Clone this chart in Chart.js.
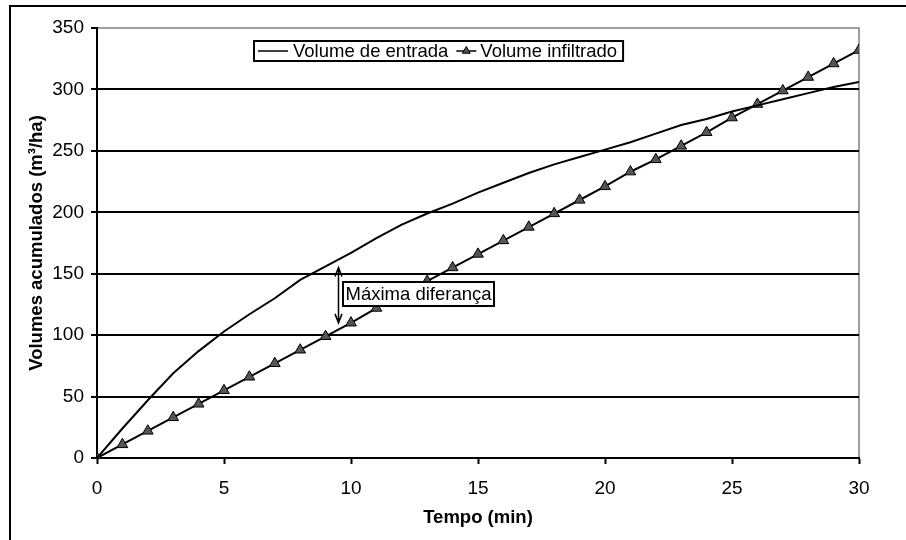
<!DOCTYPE html>
<html>
<head>
<meta charset="utf-8">
<script src="https://cdn.jsdelivr.net/npm/chart.js@4/dist/chart.umd.min.js"></script>
<style>
  html, body { margin: 0; padding: 0; background: #fff; }
  #wrap { width: 906px; height: 540px; }
</style>
</head>
<body>
<div id="wrap"><canvas id="chart" width="906" height="540"></canvas></div>
<script>
// tempo (min) e volumes acumulados (m3/ha)
const tempo = [0,1,2,3,4,5,6,7,8,9,10,11,12,13,14,15,16,17,18,19,20,21,22,23,24,25,26,27,28,29,30];
const volEntrada = [0,24,47,69,87,103,117,130,145,156,167,179,190,199,207,216,224,232,239,245,251,257,264,271,276,282,287,292,297,302,306];
const volInfiltrado = [0,11,22,33,44,55,66,77,88,99,110,122,133,144,155,166,177,188,199,210,221,233,243,254,265,277,288,299,310,321,332];

const xTicks = [0,5,10,15,20,25,30];
const yTicks = [0,50,100,150,200,250,300,350];

const serieNomes = ["Volume de entrada", "Volume infiltrado"];

// seta "Máxima diferança": tempo e limites em volume
const difTempo = 9.5;
const difTopo = 155;
const difBase = 110;
const difTexto = "Máxima diferança";
const difTextoY = 133.5;

const FONT = "Liberation Sans, Arial, sans-serif";
const CINZA = "#808080";
const MARCADOR = "#555555";

function pts(xs, ys){
  return xs.map((x, i) => ({x, y: ys[i]}));
}

function triangulo(ctx, x, y, r){
  ctx.beginPath();
  ctx.moveTo(x, y - r);
  ctx.lineTo(x + r * Math.sin(2 * Math.PI / 3), y - r * Math.cos(2 * Math.PI / 3));
  ctx.lineTo(x - r * Math.sin(2 * Math.PI / 3), y - r * Math.cos(2 * Math.PI / 3));
  ctx.closePath();
  ctx.fillStyle = MARCADOR;
  ctx.fill();
  ctx.lineWidth = 1;
  ctx.strokeStyle = "#000";
  ctx.stroke();
}

// moldura externa, moldura da área de plotagem, legenda e anotação
const extras = {
  id: "extras",
  beforeDraw(chart){
    const ctx = chart.ctx;
    const a = chart.chartArea;
    ctx.save();
    ctx.fillStyle = "#fff";
    ctx.fillRect(0, 0, chart.width, chart.height);
    ctx.strokeStyle = "#000";
    ctx.lineWidth = 2;
    ctx.beginPath();
    ctx.moveTo(10, chart.height + 5);
    ctx.lineTo(10, 6);
    ctx.lineTo(chart.width + 5, 6);
    ctx.stroke();
    // topo e lado direito cinzentos
    ctx.strokeStyle = CINZA;
    ctx.lineWidth = 1.5;
    ctx.beginPath();
    ctx.moveTo(a.left, a.top);
    ctx.lineTo(a.right, a.top);
    ctx.lineTo(a.right, a.bottom);
    ctx.stroke();
    ctx.restore();
  },
  afterDatasetsDraw(chart){
    const ctx = chart.ctx;
    const xs = chart.scales.x, ys = chart.scales.y;
    ctx.save();

    // seta dupla
    const ax = Math.round(xs.getPixelForValue(difTempo)) + 0.5;
    const y1 = ys.getPixelForValue(difTopo);
    const y2 = ys.getPixelForValue(difBase);
    ctx.strokeStyle = "#000";
    ctx.lineWidth = 1.5;
    ctx.beginPath();
    ctx.moveTo(ax, y1 + 1);
    ctx.lineTo(ax, y2 - 1);
    ctx.moveTo(ax - 3.5, y1 + 9);
    ctx.lineTo(ax, y1);
    ctx.lineTo(ax + 3.5, y1 + 9);
    ctx.moveTo(ax - 3.5, y2 - 9);
    ctx.lineTo(ax, y2);
    ctx.lineTo(ax + 3.5, y2 - 9);
    ctx.stroke();

    // caixa do texto
    ctx.font = "18.5px " + FONT;
    const tw = ctx.measureText(difTexto).width;
    const bx = ax + 4.5;
    const cy = ys.getPixelForValue(difTextoY);
    const bw = tw + 5, bh = 24;
    ctx.fillStyle = "#fff";
    ctx.fillRect(bx, cy - bh / 2, bw, bh);
    ctx.lineWidth = 2;
    ctx.strokeRect(bx, cy - bh / 2, bw, bh);
    ctx.fillStyle = "#000";
    ctx.textBaseline = "middle";
    ctx.textAlign = "left";
    ctx.fillText(difTexto, bx + 2.5, cy + 1);

    // legenda
    const lx = 254, ly = 41, lh = 20;
    const w1 = ctx.measureText(serieNomes[0]).width;
    const w2 = ctx.measureText(serieNomes[1]).width;
    const lw = 4 + 30 + 5 + w1 + 8 + 20 + 4 + w2 + 6;
    ctx.fillStyle = "#fff";
    ctx.fillRect(lx, ly, lw, lh);
    ctx.lineWidth = 2;
    ctx.strokeRect(lx, ly, lw, lh);
    const my = ly + lh / 2;
    let cx = lx + 4;
    ctx.lineWidth = 1.5;
    ctx.beginPath();
    ctx.moveTo(cx, my);
    ctx.lineTo(cx + 30, my);
    ctx.stroke();
    cx += 35;
    ctx.fillStyle = "#000";
    ctx.fillText(serieNomes[0], cx, my + 1);
    cx += w1 + 8;
    ctx.beginPath();
    ctx.moveTo(cx, my);
    ctx.lineTo(cx + 20, my);
    ctx.stroke();
    triangulo(ctx, cx + 10, my, 4.5);
    cx += 24;
    ctx.fillStyle = "#000";
    ctx.fillText(serieNomes[1], cx, my + 1);

    ctx.restore();
  }
};

new Chart(document.getElementById("chart"), {
  type: "line",
  data: {
    datasets: [
      {
        label: serieNomes[0],
        data: pts(tempo, volEntrada),
        borderColor: "#000",
        borderWidth: 2,
        pointRadius: 0,
        tension: 0
      },
      {
        label: serieNomes[1],
        data: pts(tempo, volInfiltrado),
        borderColor: "#000",
        borderWidth: 2,
        pointStyle: "triangle",
        pointRadius: 6.2,
        pointBackgroundColor: MARCADOR,
        pointBorderColor: "#000",
        pointBorderWidth: 1,
        tension: 0
      }
    ]
  },
  options: {
    responsive: false,
    animation: false,
    layout: {padding: {top: 28, right: 47, left: 0, bottom: 0}},
    plugins: {legend: {display: false}, tooltip: {enabled: false}},
    scales: {
      x: {
        type: "linear",
        min: 0, max: 30,
        afterFit: s => { s.height = 82; },
        afterBuildTicks: s => { s.ticks = xTicks.map(v => ({value: v})); },
        ticks: {color: "#000", font: {family: FONT, size: 19}, padding: 13, maxRotation: 0},
        grid: {drawOnChartArea: false, tickLength: 6, tickWidth: 2, tickColor: "#000"},
        border: {color: "#000", width: 2},
        title: {display: true, text: "Tempo (min)", color: "#000",
                font: {family: FONT, size: 18.5, weight: "bold"}, padding: {bottom: 11}}
      },
      y: {
        min: 0, max: 350,
        afterFit: s => { s.width = 97; },
        afterBuildTicks: s => { s.ticks = yTicks.map(v => ({value: v})); },
        ticks: {color: "#000", font: {family: FONT, size: 19}, padding: 7},
        grid: {
          color: c => c.tick && c.tick.value === 350 ? "rgba(0,0,0,0)" : "#000",
          lineWidth: 2,
          tickLength: 6, tickWidth: 2, tickColor: "#000"
        },
        border: {color: "#000", width: 2},
        title: {display: true, text: "Volumes acumulados (m³/ha)", color: "#000",
                font: {family: FONT, size: 18.5, weight: "bold"}, padding: {top: 26}}
      }
    }
  },
  plugins: [extras]
});
</script>
</body>
</html>
